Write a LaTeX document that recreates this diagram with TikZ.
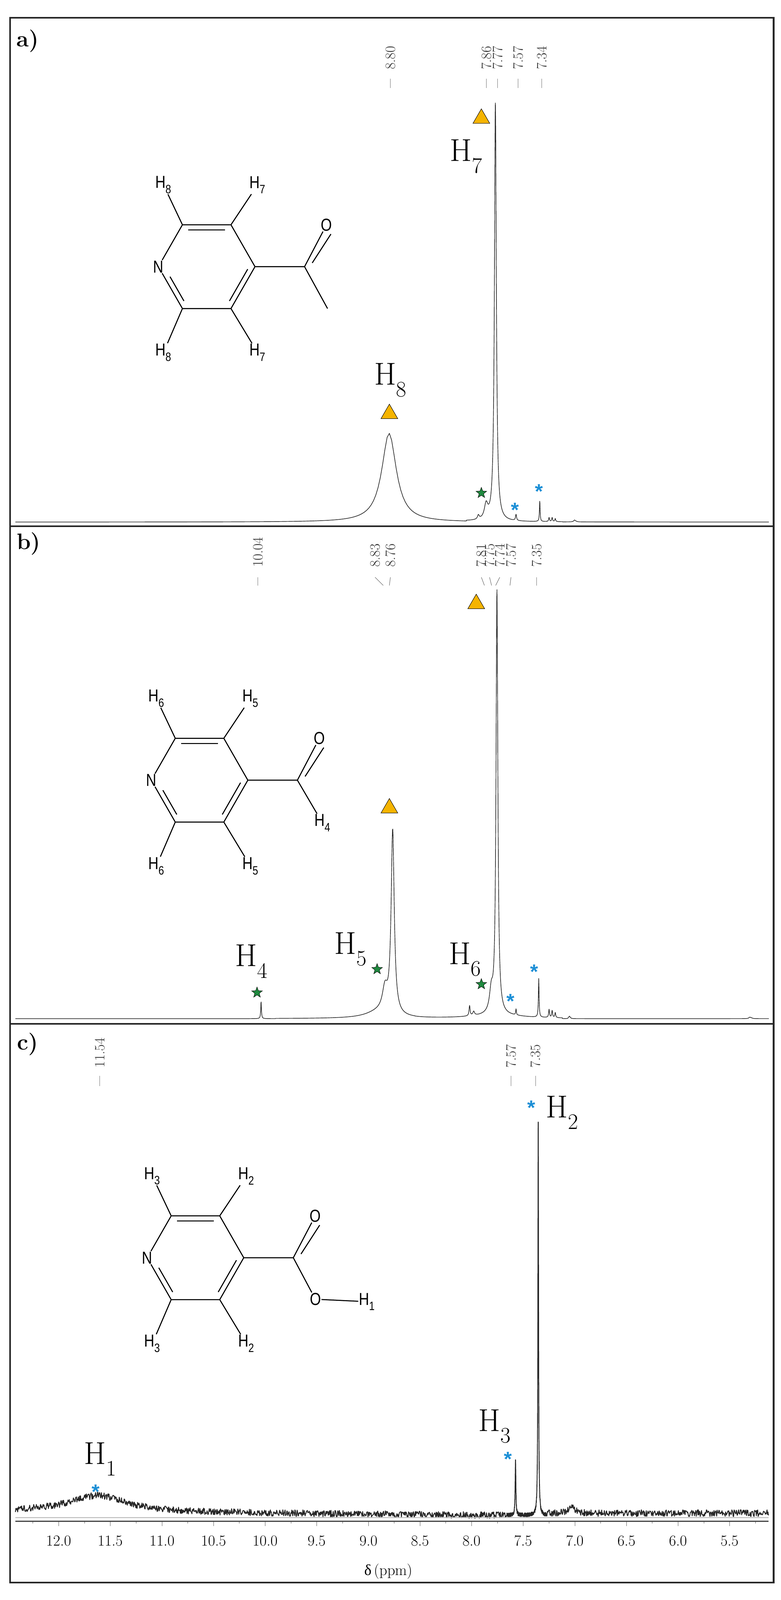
\documentclass[tikz,border=0pt]{standalone}
\usepackage{fontspec}
\newfontfamily\molfont[FakeStretch=0.82]{Liberation Sans}
\newfontfamily\starfont{Liberation Sans}
\newfontfamily\grfont{Liberation Serif}
\usetikzlibrary{calc,shapes.geometric}
\definecolor{tri}{HTML}{F5B400}
\definecolor{stargreen}{HTML}{1F8A3F}
\definecolor{astblue}{HTML}{1C8FD6}
\tikzset{
  x=1mm,y=-1mm,
  declare function={lor(\x,\c,\w)=1/(1+min(abs((\x-\c)/\w),120)^2);},
  spec/.style={line width=0.6mm,black!85,line join=round},
  bond/.style={line width=1mm,black},
  frame/.style={line width=1.6mm,black!85},
  mlab/.style={inner sep=0.5mm,font=\molfont\fontsize{17mm}{18mm}\selectfont},
  bigH/.style={inner sep=0,font=\fontsize{31mm}{32mm}\selectfont},
  shiftlab/.style={rotate=90,anchor=west,inner sep=0,font=\fontsize{14mm}{15mm}\selectfont,black!80},
  shifttick/.style={line width=0.35mm,black!70},
  panel/.style={inner sep=0,font=\bfseries\fontsize{22mm}{23mm}\selectfont},
  trimark/.style={regular polygon,regular polygon sides=3,minimum size=19mm,inner sep=0,fill=tri,draw=black,line width=0.4mm},
  starmark/.style={star,star points=5,star point ratio=2.4,minimum size=11mm,inner sep=0,fill=stargreen,draw=black,line width=0.35mm},
  astmark/.style={inner sep=0,text=astblue,font=\starfont\bfseries\fontsize{20mm}{20mm}\selectfont},
  axlab/.style={inner sep=0,font=\fontsize{15mm}{16mm}\selectfont},
}
\newcommand\pyring[5]{%
  \coordinate (#1C2) at ($(#2,#3)+(23.5,-41)$);
  \coordinate (#1C3) at ($(#2,#3)+(71,-41)$);
  \coordinate (#1C4) at ($(#2,#3)+(94.5,0)$);
  \coordinate (#1C5) at ($(#2,#3)+(71,41)$);
  \coordinate (#1C6) at ($(#2,#3)+(23.5,41)$);
  \coordinate (#1C7) at ($(#2,#3)+(143,0)$);
  \node[mlab] (#1N) at (#2,#3) {N};
  \node[mlab] (#1Ha) at ($(#2,#3)+(5,-80)$) {H\textsubscript{#4}};
  \node[mlab] (#1Hb) at ($(#2,#3)+(97,-80)$) {H\textsubscript{#5}};
  \node[mlab] (#1Hc) at ($(#2,#3)+(5,84)$) {H\textsubscript{#4}};
  \node[mlab] (#1Hd) at ($(#2,#3)+(97,84)$) {H\textsubscript{#5}};
  \node[mlab] (#1O) at ($(#2,#3)+(164.5,-41)$) {O};
  \draw[bond] (#1N) -- (#1C2) -- (#1C3) -- (#1C4) -- (#1C5) -- (#1C6) -- (#1N);
  \draw[bond] ($(#1C2)!0.12!(#1C3)+(0,5)$) -- ($(#1C2)!0.88!(#1C3)+(0,5)$);
  \draw[bond] ($(#1N)!0.3!(#1C6)+(4.3,-2.5)$) -- ($(#1N)!0.88!(#1C6)+(4.3,-2.5)$);
  \draw[bond] ($(#1C4)!0.12!(#1C5)+(-4.3,-2.5)$) -- ($(#1C4)!0.88!(#1C5)+(-4.3,-2.5)$);
  \draw[bond] (#1C2) -- (#1Ha); \draw[bond] (#1C3) -- (#1Hb);
  \draw[bond] (#1C6) -- (#1Hc); \draw[bond] (#1C5) -- (#1Hd);
  \draw[bond] (#1C4) -- (#1C7) -- (#1O);
  \draw[bond] ($(#1C7)!0.15!(#1O)+(4.3,2.5)$) -- ($(#1O.south)+(4.3,2.5)$);
}
\begin{document}
\begin{tikzpicture}
\useasboundingbox (0,0) rectangle (764,1566);
\fill[white] (0,0) rectangle (764,1566);
\draw[frame] (10,17.5) rectangle (757,1549);
\draw[frame] (10,515) -- (757,515);
\draw[frame] (10,1002) -- (757,1002);
\node[panel] (pa) at (27,40) {a)};
\node[panel] (pb) at (28,532) {b)};
\node[panel] (pc) at (27,1022) {c)};

% ---------------- panel a
\draw[spec] plot[domain=12.42:8.05,samples=200]
  ({57.5+(12-\x)*101},{511-87*lor(\x,8.80,0.085)})
  -- plot[domain=8.05:7.12,samples=550]
  ({57.5+(12-\x)*101},{511-87*lor(\x,8.80,0.085)-410*lor(\x,7.77,0.011)-14*lor(\x,7.86,0.02)-4*lor(\x,7.935,0.01)-6*lor(\x,7.57,0.006)-20*lor(\x,7.34,0.004)-4*lor(\x,7.25,0.005)-4*lor(\x,7.22,0.005)-3*lor(\x,7.19,0.005)})
  -- plot[domain=7.12:5.12,samples=120]
  ({57.5+(12-\x)*101},{511-87*lor(\x,8.80,0.085)-2*lor(\x,7.0,0.01)});
\foreach \n/\xx/\t in {s1/382/8.80,s2/476/7.86,s3/487/7.77,s4/507/7.57,s5/530/7.34}{
  \node[shiftlab] (a\n) at (\xx,68) {\t};
  \draw[shifttick] (\xx,77) -- (\xx,86);}
\node[trimark] (ta1) at (471,116) {};
\node[trimark] (ta2) at (381,405) {};
\node[bigH] (ha7) at (456,153) {H\textsubscript{7}};
\node[bigH] (ha8) at (382,372) {H\textsubscript{8}};
\node[starmark] (sa1) at (471,482.5) {};
\node[astmark] (aa1) at (504,499) {*};
\node[astmark] (aa2) at (527.5,481) {*};
\pyring{a}{155}{261}{8}{7}
\coordinate (aMe) at (320.5,302);
\draw[bond] (aC7) -- (aMe);

% ---------------- panel b
\draw[spec] plot[domain=12.42:10.15,samples=120]
  ({57.5+(12-\x)*101},{997})
  -- plot[domain=10.15:9.9,samples=120]
  ({57.5+(12-\x)*101},{997-17*lor(\x,10.04,0.004)})
  -- plot[domain=9.9:8.55,samples=450]
  ({57.5+(12-\x)*101},{997-180*lor(\x,8.765,0.018)-22*lor(\x,8.84,0.03)-6*lor(\x,8.9,0.15)-3*lor(\x,7.75,0.3)})
  -- plot[domain=8.55:7.12,samples=700]
  ({57.5+(12-\x)*101},{997-180*lor(\x,8.765,0.018)-6*lor(\x,8.9,0.15)-415*lor(\x,7.755,0.0105)-20*lor(\x,7.81,0.02)-10*lor(\x,8.02,0.006)-4*lor(\x,7.98,0.01)-6*lor(\x,7.57,0.004)-38*lor(\x,7.35,0.004)-8*lor(\x,7.25,0.005)-7*lor(\x,7.22,0.005)-5*lor(\x,7.19,0.005)-3*lor(\x,7.75,0.3)})
  -- plot[domain=7.12:5.12,samples=120]
  ({57.5+(12-\x)*101},{997-3*lor(\x,7.05,0.006)-2*lor(\x,5.3,0.01)});
\foreach \n/\xx/\px/\t in {s1/252.4/252.4/10.04,s2/367/375/8.83,s3/382/381/8.76,s4/471/474/7.81,s5/479/481/7.75,s6/489/485/7.74,s7/500/499/7.57,s8/525/525/7.35}{
  \node[shiftlab] (b\n) at (\xx,555) {\t};
  \draw[shifttick] (\xx,565) -- (\px,573);}
\node[trimark] (tb1) at (466,591) {};
\node[trimark] (tb2) at (381,791) {};
\node[bigH] (hb4) at (246,941) {H\textsubscript{4}};
\node[bigH] (hb5) at (343,929) {H\textsubscript{5}};
\node[bigH] (hb6) at (455,939) {H\textsubscript{6}};
\node[starmark] (sb1) at (251.5,971.5) {};
\node[starmark] (sb2) at (369,948.6) {};
\node[starmark] (sb3) at (471,963.3) {};
\node[astmark] (ab1) at (499.4,980) {*};
\node[astmark] (ab2) at (522.6,951) {*};
\pyring{b}{148}{763.6}{6}{5}
\node[mlab] (bH4) at (315.5,805.4) {H\textsubscript{4}};
\draw[bond] (bC7) -- (bH4);

% ---------------- panel c
\draw[spec,line width=0.85mm] plot[domain=12.42:7.66,samples=1100]
  ({57.5+(12-\x)*101},{1479+0.9*(12.42-\x)-16*lor(\x,11.62,0.33)+3.3*rand})
  -- plot[domain=7.66:7.28,samples=450]
  ({57.5+(12-\x)*101},{1483-53*lor(\x,7.575,0.004)-391*lor(\x,7.355,0.0035)+2*rand})
  -- plot[domain=7.28:5.12,samples=500]
  ({57.5+(12-\x)*101},{1481-6*lor(\x,7.03,0.04)+3.3*rand});
\foreach \n/\xx/\t in {s1/97.6/11.54,s2/500/7.57,s3/524/7.35}{
  \node[shiftlab] (c\n) at (\xx,1045) {\t};
  \draw[shifttick] (\xx,1053) -- (\xx,1063);}
\node[astmark] (ac1) at (520,1084) {*};
\node[bigH] (hc2) at (550,1089) {H\textsubscript{2}};
\node[bigH] (hc3) at (484,1396) {H\textsubscript{3}};
\node[astmark] (ac2) at (497,1428) {*};
\node[bigH] (hc1) at (98,1428) {H\textsubscript{1}};
\node[astmark] (ac3) at (93.7,1460) {*};
\pyring{c}{144}{1231}{3}{2}
\node[mlab] (cO2) at (308.6,1271.6) {O};
\node[mlab] (cH1) at (359,1274) {H\textsubscript{1}};
\draw[bond] (cC7) -- (cO2);
\draw[bond] (cO2) -- (cH1);

% axis
\coordinate (axl) at (15,1489);
\coordinate (axr) at (752,1489);
\draw[black!25,line width=0.8mm] (15,1485.3) -- (752,1485.3);
\draw[black!70,line width=1.1mm] (axl) -- (axr);
\foreach \v in {12.25,11.75,...,5.25}{
  \draw[black!80,line width=0.3mm] ({57.5+(12-\v)*101},1489) -- ++(0,2);}
\foreach \v/\t in {12.0/12.0,11.5/11.5,11.0/11.0,10.5/10.5,10.0/10.0,9.5/9.5,9.0/9.0,8.5/8.5,8.0/8.0,7.5/7.5,7.0/7.0,6.5/6.5,6.0/6.0,5.5/5.5}{
  \draw[black!80,line width=0.3mm] ({57.5+(12-\v)*101},1489) -- ++(0,4.5);
  \node[axlab] (ax\t) at ({57.5+(12-\v)*101},1508) {\t};}
\node[axlab] (axt) at (380,1538) {{\grfont δ}\,(ppm)};
\end{tikzpicture}
\end{document}
